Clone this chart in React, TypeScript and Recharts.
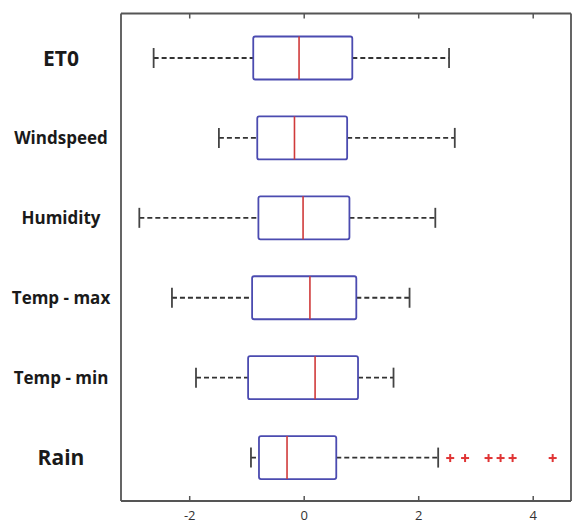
import React from 'react';
import { ComposedChart, Bar, Scatter, XAxis, YAxis, ReferenceLine } from 'recharts';

const categories = ['ET0', 'Windspeed', 'Humidity', 'Temp - max', 'Temp - min', 'Rain'];
const whiskerLow = [-2.63, -1.49, -2.88, -2.31, -1.89, -0.93];
const q1Values = [-0.89, -0.82, -0.8, -0.91, -0.98, -0.79];
const medianValues = [-0.09, -0.17, -0.02, 0.1, 0.19, -0.3];
const q3Values = [0.84, 0.75, 0.79, 0.91, 0.94, 0.56];
const whiskerHigh = [2.53, 2.63, 2.29, 1.84, 1.56, 2.34];
const rainOutliers = [2.55, 2.81, 3.22, 3.43, 3.64, 4.34];
const xTicks = [-2, 0, 2, 4];
const xDomain: [number, number] = [-3.2, 4.66];

const rows = categories.map((name, i) => ({
  name,
  range: [whiskerLow[i], whiskerHigh[i]],
  lo: whiskerLow[i],
  q1: q1Values[i],
  med: medianValues[i],
  q3: q3Values[i],
  hi: whiskerHigh[i],
}));

const outlierData = rainOutliers.map((v) => ({ name: 'Rain', v }));

const FRAME = '#555';

const BoxShape = (props: any) => {
  const { x, y, width, height, payload } = props;
  if (!payload) return null;
  const { lo, q1, med, q3, hi } = payload;
  const k = width / (hi - lo);
  const px = (v: number) => x + (v - lo) * k;
  const cy = y + height / 2;
  const capH = 20;
  const wStroke = '#333';
  return (
    <g>
      <line x1={px(lo)} x2={px(q1)} y1={cy} y2={cy} stroke={wStroke} strokeWidth={1.8} strokeDasharray="5 3" />
      <line x1={px(q3)} x2={px(hi)} y1={cy} y2={cy} stroke={wStroke} strokeWidth={1.8} strokeDasharray="5 3" />
      <line x1={px(lo)} x2={px(lo)} y1={cy - capH / 2} y2={cy + capH / 2} stroke="#444" strokeWidth={1.8} />
      <line x1={px(hi)} x2={px(hi)} y1={cy - capH / 2} y2={cy + capH / 2} stroke="#444" strokeWidth={1.8} />
      <rect x={px(q1)} y={y} width={px(q3) - px(q1)} height={height} fill="#fff" stroke="#4b4bb0" strokeWidth={1.8} rx={2} />
      <line x1={px(med)} x2={px(med)} y1={y} y2={y + height} stroke="#d03a3a" strokeWidth={1.6} />
    </g>
  );
};

const PlusShape = (props: any) => {
  const { cx, cy } = props;
  if (cx == null || cy == null) return null;
  const s = 4;
  return (
    <g stroke="#e03434" strokeWidth={2}>
      <line x1={cx - s} x2={cx + s} y1={cy} y2={cy} />
      <line x1={cx} x2={cx} y1={cy - s} y2={cy + s} />
    </g>
  );
};

const bigLabels = new Set(['ET0', 'Rain']);

const CategoryTick = (props: any) => {
  const { x, y, payload } = props;
  const big = bigLabels.has(payload.value);
  return (
    <text
      x={x - 60}
      y={y}
      dy="0.35em"
      textAnchor="middle"
      fontFamily="'Open Sans', Lato, sans-serif"
      fontWeight={700}
      fontSize={big ? 21 : 17}
      fill="#1a1a1a"
    >
      {payload.value}
    </text>
  );
};

const BottomTick = (props: any) => {
  const { x, y, payload } = props;
  return (
    <g>
      <line x1={x} x2={x} y1={y} y2={y - 5} stroke={FRAME} strokeWidth={1.5} />
      <text x={x} y={y + 14} dy="0.35em" textAnchor="middle" fontFamily="'Open Sans', Lato, sans-serif" fontSize={13} fill="#333">
        {payload.value}
      </text>
    </g>
  );
};

const TopTick = (props: any) => {
  const { x, y } = props;
  return <line x1={x} x2={x} y1={y} y2={y + 5} stroke={FRAME} strokeWidth={1.5} />;
};

export default function App() {
  return (
    <div style={{ position: 'absolute', left: 0, top: 0 }}>
      <ComposedChart
        width={573}
        height={524}
        data={rows}
        layout="vertical"
        margin={{ top: 3.5, right: 2, bottom: 0, left: 0 }}
      >
        <XAxis
          type="number"
          domain={xDomain}
          allowDataOverflow
          ticks={xTicks}
          height={23}
          tickSize={0}
          tickMargin={0}
          tickLine={false}
          axisLine={{ stroke: FRAME, strokeWidth: 1.8 }}
          tick={<BottomTick />}
        />
        <XAxis
          xAxisId="top"
          orientation="top"
          type="number"
          domain={xDomain}
          allowDataOverflow
          ticks={xTicks}
          height={10}
          tickSize={0}
          tickMargin={0}
          tickLine={false}
          axisLine={{ stroke: FRAME, strokeWidth: 1.8 }}
          tick={<TopTick />}
        />
        <YAxis
          type="category"
          dataKey="name"
          width={121}
          allowDuplicatedCategory={false}
          padding={{ top: 5, bottom: 3 }}
          tickSize={0}
          tickMargin={0}
          tickLine={false}
          axisLine={{ stroke: FRAME, strokeWidth: 1.8 }}
          tick={<CategoryTick />}
        />
        <ReferenceLine x={xDomain[1]} stroke={FRAME} strokeWidth={1.8} />
        <Bar dataKey="range" barSize={43} shape={<BoxShape />} isAnimationActive={false} />
        <Scatter data={outlierData} dataKey="v" shape={<PlusShape />} isAnimationActive={false} />
      </ComposedChart>
    </div>
  );
}
